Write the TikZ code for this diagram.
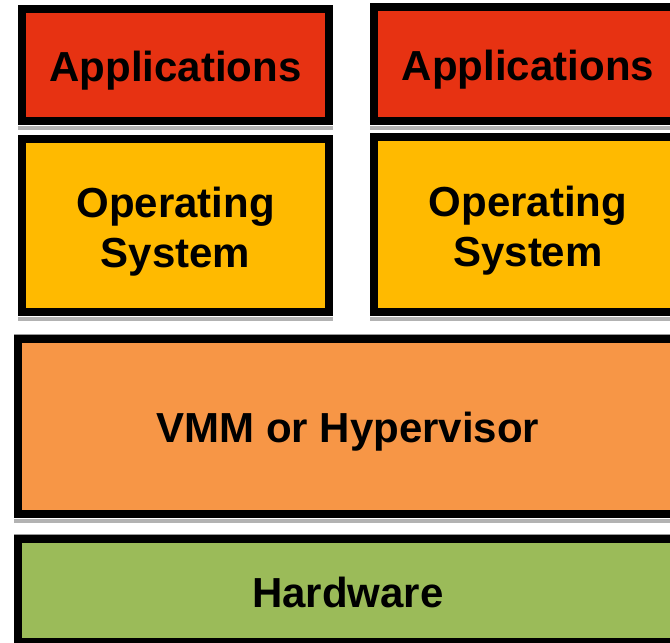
\documentclass[tikz,border=0pt]{standalone}
\usepackage{fontspec}
\setmainfont{Liberation Sans}
\definecolor{appred}{RGB}{231,50,18}
\definecolor{osyellow}{RGB}{255,186,0}
\definecolor{vmmorange}{RGB}{247,150,70}
\definecolor{hwgreen}{RGB}{155,187,89}
% invisible strut that lowers a label inside its box
\newcommand{\lowerby}[1]{\rule{0pt}{#1}}
\tikzset{
  layer/.style={draw=black, line width=8pt, inner sep=0pt, align=center,
    font=\bfseries\fontsize{42}{50}\selectfont},
  dropshade/.style={fill=black!30, draw=none},
  edgeline/.style={draw=black!40, line width=1pt}
}
\begin{document}
\begin{tikzpicture}[x=1pt,y=-1pt]
  \useasboundingbox (0,0) rectangle (670,643);
  \clip (0,0) rectangle (670,643);

  % shadows under each layer
  \fill[dropshade] (18,126) rectangle (333,130);
  \fill[dropshade] (370,126) rectangle (686,130);
  \fill[dropshade] (18,317) rectangle (333,321);
  \fill[dropshade] (370,317) rectangle (686,321);
  \fill[dropshade] (14,519) rectangle (682,523);
  \draw[edgeline] (14,334.5) -- (682,334.5);
  \draw[edgeline] (14,534.5) -- (682,534.5);

  % guest stacks
  \node[layer, fill=appred, minimum width=307pt, minimum height=112pt]
    (appL) at (175.5,65) {\lowerby{42pt}Applications};
  \node[layer, fill=appred, minimum width=308pt, minimum height=114pt]
    (appR) at (528,64) {\lowerby{42pt}Applications};
  \node[layer, fill=osyellow, minimum width=307pt, minimum height=173pt]
    (osL) at (175.5,225.5) {\lowerby{42pt}Operating\\System};
  \node[layer, fill=osyellow, minimum width=308pt, minimum height=175pt]
    (osR) at (528,224.5) {\lowerby{42pt}Operating\\System};

  % hypervisor and hardware
  \node[layer, fill=vmmorange, minimum width=660pt, minimum height=175pt]
    (vmm) at (348,426.5) {\lowerby{41pt}VMM or Hypervisor};
  \node[layer, fill=hwgreen, minimum width=660pt, minimum height=103pt]
    (hw) at (348,590.5) {\lowerby{35pt}Hardware};
\end{tikzpicture}
\end{document}
